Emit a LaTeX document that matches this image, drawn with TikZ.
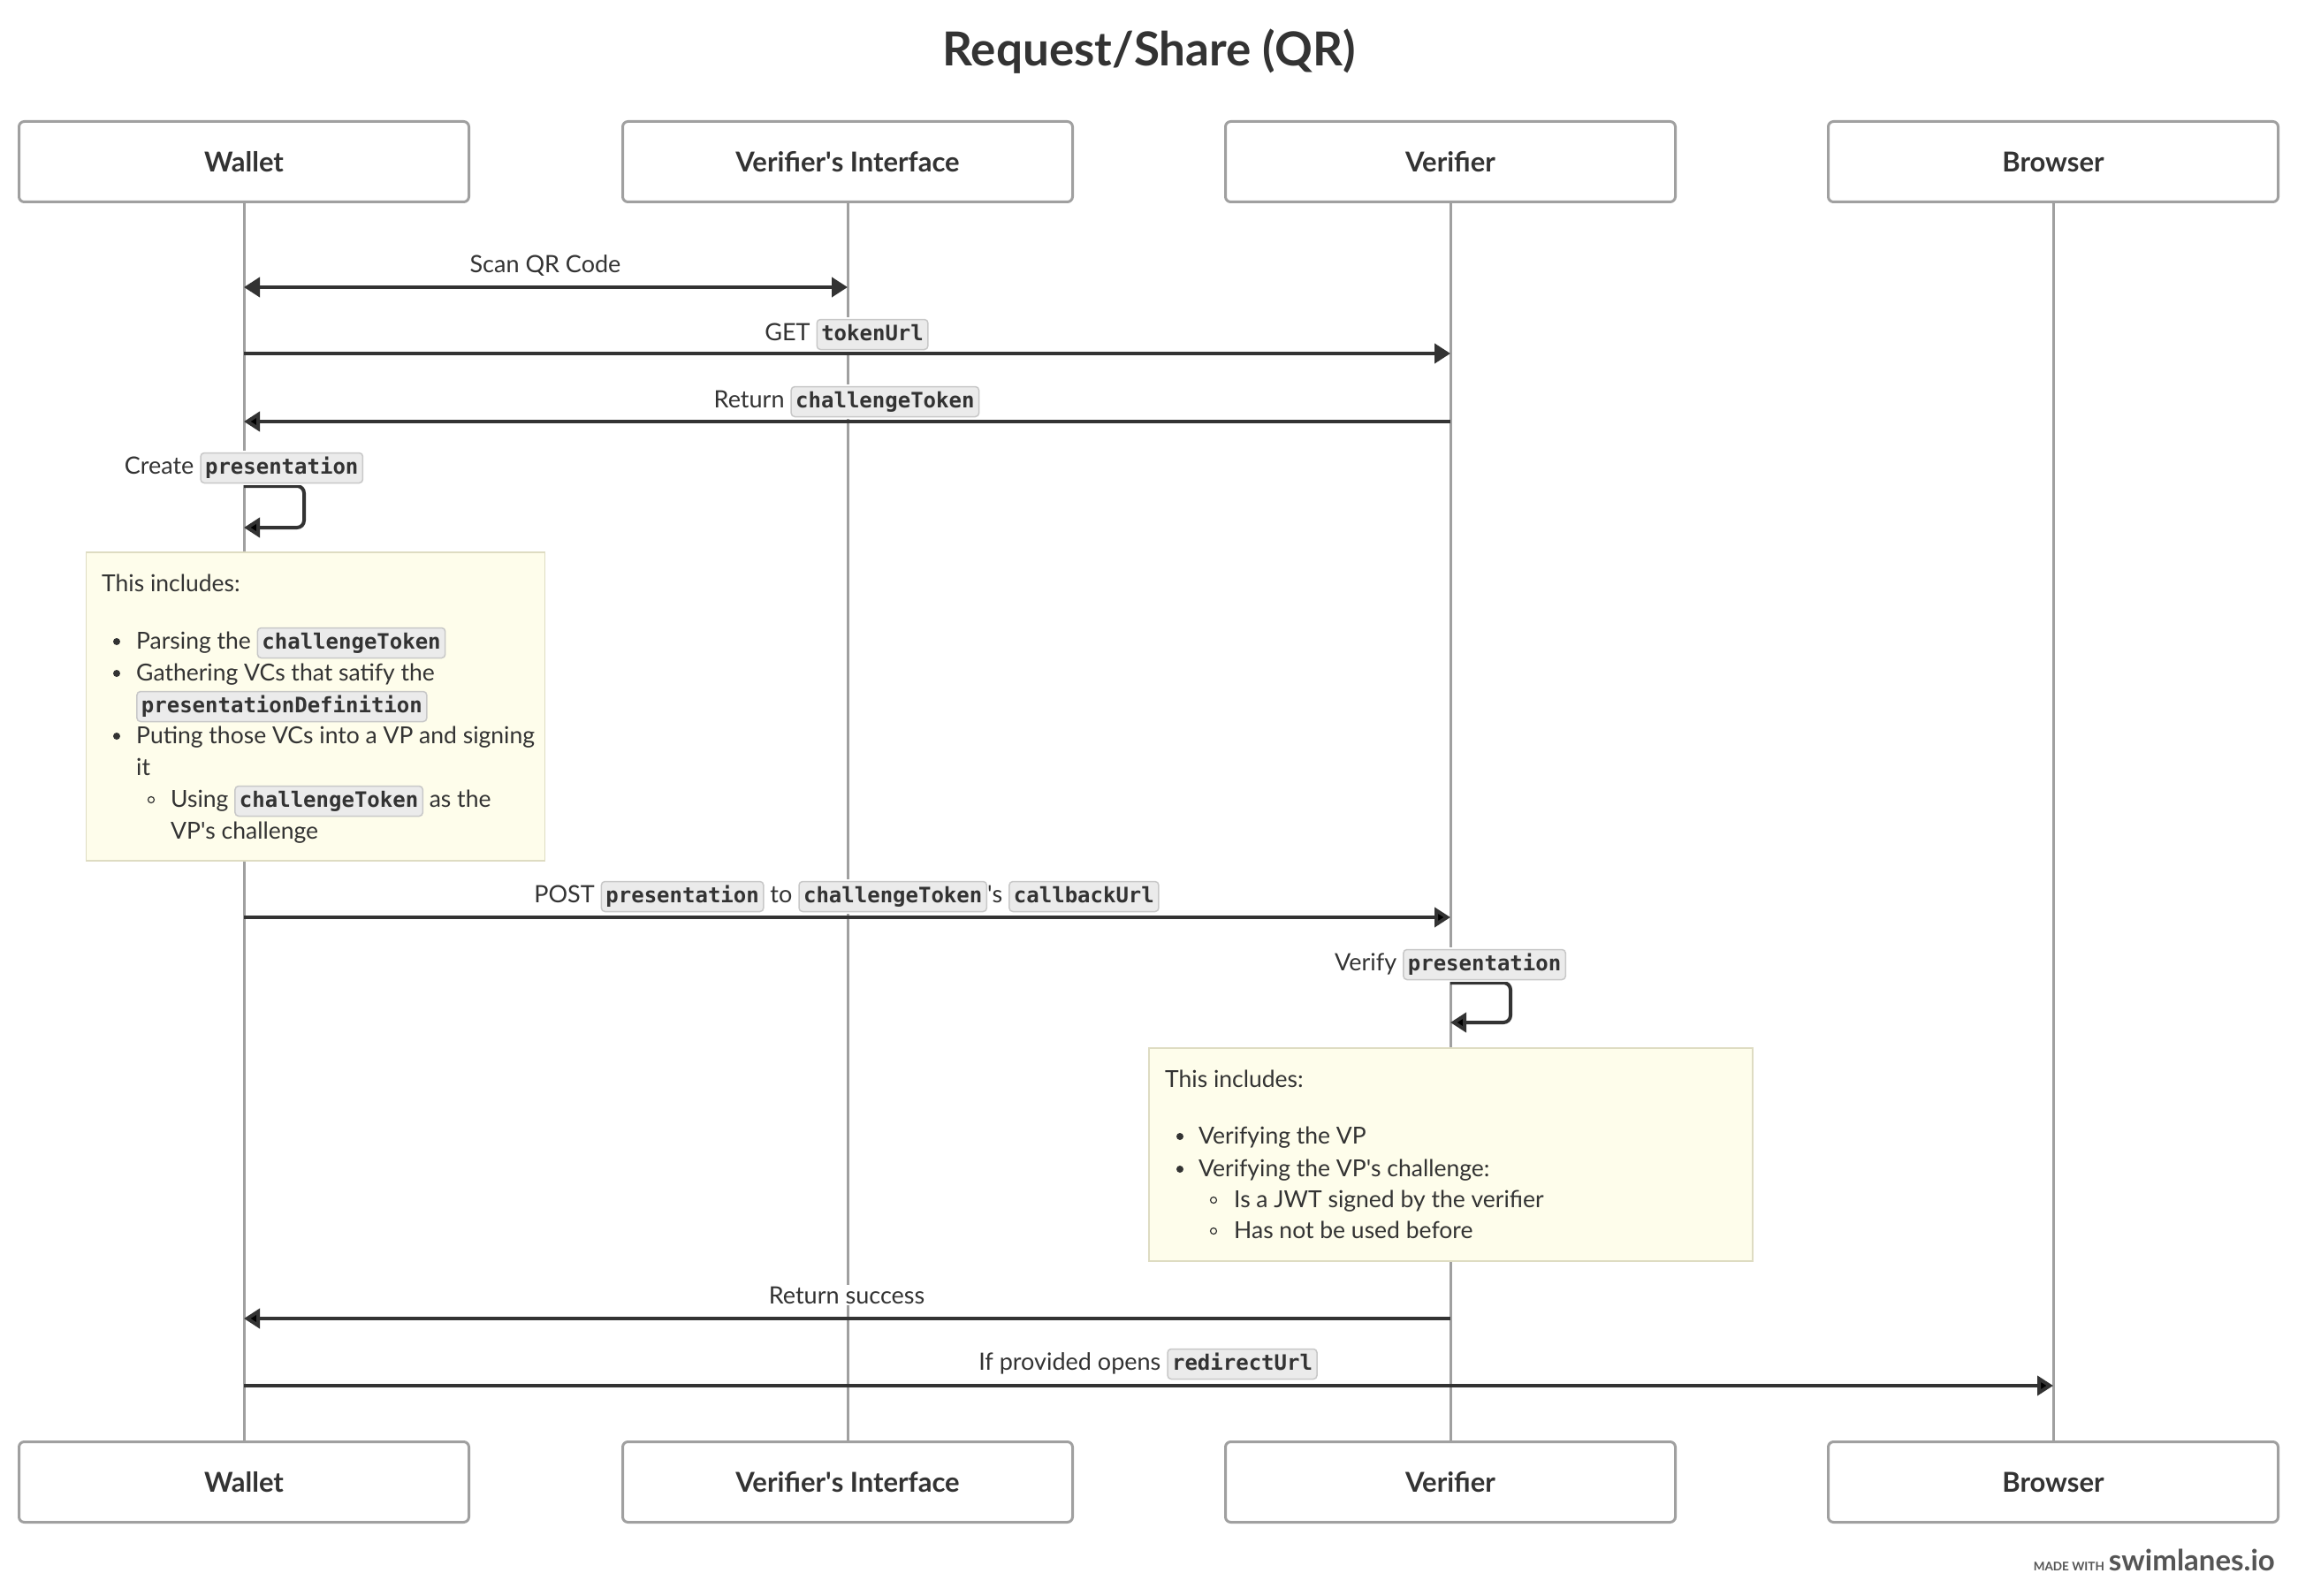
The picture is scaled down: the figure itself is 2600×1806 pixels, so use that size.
\documentclass[tikz,border=0pt]{standalone}
\usepackage{fontspec}
\setmainfont{Lato}
\newfontfamily\monofont{DejaVu Sans Mono}
\usetikzlibrary{arrows.meta}
\definecolor{ink}{HTML}{333333}
\definecolor{boxgray}{HTML}{A0A0A0}
\definecolor{lifegray}{HTML}{A0A0A0}
\definecolor{notefill}{HTML}{FEFDEB}
\definecolor{notebord}{HTML}{DEDCC2}
\definecolor{pillfill}{HTML}{EBEBEB}
\definecolor{pillbord}{HTML}{C8C8C8}
\definecolor{footgray}{HTML}{555555}
\tikzset{
 actor/.style={draw=boxgray, line width=3pt, fill=white, rounded corners=6pt, minimum width=509pt, minimum height=91pt, font=\fontsize{31}{36}\selectfont\bfseries, text=ink},
 life/.style={draw=lifegray, line width=3pt},
 msg/.style={draw=ink, line width=4pt, -{Triangle[length=18pt,width=22pt]}},
 dmsg/.style={draw=ink, line width=4pt, {Triangle[length=18pt,width=22pt]}-{Triangle[length=18pt,width=22pt]}},
 lbl/.style={font=\fontsize{27}{32}\selectfont, text=ink, fill=white, inner sep=2pt, anchor=base},
 note/.style={draw=notebord, line width=1.5pt, fill=notefill},
 ntxt/.style={font=\fontsize{26.5}{32}\selectfont, text=ink, anchor=base west, inner sep=0pt},
 pill/.style={draw=pillbord, fill=pillfill, line width=1.5pt, rounded corners=4pt, inner xsep=5pt, inner ysep=5.5pt, text height=18pt, text depth=5pt, font={\monofont\fontsize{24}{24}\selectfont\bfseries}, text=ink, anchor=base},
 dot/.style={fill=ink, draw=none, circle, inner sep=0pt, minimum size=8pt},
 ring/.style={draw=ink, line width=1.2pt, fill=none, circle, inner sep=0pt, minimum size=7pt},
}
\newcommand\cpill[1]{\tikz[baseline=(cc.base)]\node[pill](cc){#1};}
\newcommand\apos{\textquotesingle}
\begin{document}
\begin{tikzpicture}[x=1pt,y=-1pt]
\useasboundingbox (0,0) rectangle (2600,1806);
\fill[white] (0,0) rectangle (2600,1806);

\node[font=\fontsize{53}{60}\selectfont\bfseries, text=ink] (title) at (1300,58) {Request/Share (QR)};

% actors
\node[actor] (wallet) at (276,183) {Wallet};
\node[actor] (iface) at (959,183) {Verifier\apos s Interface};
\node[actor] (verif) at (1641,183) {Verifier};
\node[actor] (brow) at (2323,183) {Browser};
\node[actor] (walletB) at (276,1677) {Wallet};
\node[actor] (ifaceB) at (959,1677) {Verifier\apos s Interface};
\node[actor] (verifB) at (1641,1677) {Verifier};
\node[actor] (browB) at (2323,1677) {Browser};

% lifelines
\draw[life] (wallet.south) -- (walletB.north);
\draw[life] (iface.south) -- (ifaceB.north);
\draw[life] (verif.south) -- (verifB.north);
\draw[life] (brow.south) -- (browB.north);

% coordinates on lifelines
\coordinate (w1) at (276,325); \coordinate (i1) at (959,325);
\coordinate (w2) at (276,400); \coordinate (v2) at (1641,400);
\coordinate (w3) at (276,477); \coordinate (v3) at (1641,477);
\coordinate (w4a) at (276,550); \coordinate (w4b) at (276,597);
\coordinate (w6) at (276,1038); \coordinate (v6) at (1641,1038);
\coordinate (v7a) at (1641,1112); \coordinate (v7b) at (1641,1157);
\coordinate (w9) at (276,1492); \coordinate (v9) at (1641,1492);
\coordinate (w10) at (276,1568); \coordinate (b10) at (2323,1568);

% messages
\draw[dmsg] (w1) -- (i1);
\node[lbl] (l1) at (617,308) {Scan QR Code};

\draw[msg] (w2) -- (v2);
\node[lbl] (l2) at (958,385) {GET \cpill{tokenUrl}};

\draw[msg] (v3) -- (w3);
\node[lbl] (l3) at (958,461) {Return \cpill{challengeToken}};

\draw[msg, rounded corners=8pt] (w4a) -- ++(68,0) -- ++(0,47) -- (w4b);
\node[lbl] (l4) at (276,536) {Create \cpill{presentation}};

% note 1
\node[note, minimum width=519pt, minimum height=349pt, inner sep=0pt] (n1) at (357,799.5) {};
\node[ntxt] (n1a) at (115,669) {This includes:};
\node[dot] (n1b1) at (132,726) {};
\node[ntxt] (n1b) at (154,734) {Parsing the \cpill{challengeToken}};
\node[dot] (n1c1) at (132,762) {};
\node[ntxt] (n1c) at (154,770) {Gathering VCs that satify the};
\node[ntxt] (n1d) at (154,806) {\cpill{presentationDefinition}};
\node[dot] (n1e1) at (132,833) {};
\node[ntxt] (n1e) at (154,841) {Puting those VCs into a VP and signing};
\node[ntxt] (n1f) at (154,877) {it};
\node[ring] (n1g1) at (171,905) {};
\node[ntxt] (n1g) at (193,913) {Using \cpill{challengeToken} as the};
\node[ntxt] (n1h) at (193,949) {VP\apos s challenge};

\draw[msg] (w6) -- (v6);
\node[lbl] (l6) at (958,1021) {POST \cpill{presentation} to \cpill{challengeToken}\apos s \cpill{callbackUrl}};

\draw[msg, rounded corners=8pt] (v7a) -- ++(68,0) -- ++(0,45) -- (v7b);
\node[lbl] (l7) at (1641,1098) {Verify \cpill{presentation}};

% note 2
\node[note, minimum width=683pt, minimum height=241pt, inner sep=0pt] (n2) at (1641.5,1306.5) {};
\node[ntxt] (n2a) at (1318,1230) {This includes:};
\node[dot] (n2b1) at (1335,1286) {};
\node[ntxt] (n2b) at (1356,1294) {Verifying the VP};
\node[dot] (n2c1) at (1335,1323) {};
\node[ntxt] (n2c) at (1356,1331) {Verifying the VP\apos s challenge:};
\node[ring] (n2d1) at (1373,1358) {};
\node[ntxt] (n2d) at (1396,1366) {Is a JWT signed by the verifier};
\node[ring] (n2e1) at (1373,1393) {};
\node[ntxt] (n2e) at (1396,1401) {Has not be used before};

\draw[msg] (v9) -- (w9);
\node[lbl] (l9) at (958,1475) {Return success};

\draw[msg] (w10) -- (b10);
\node[lbl] (l10) at (1299,1550) {If provided opens \cpill{redirectUrl}};

% footer
\node[anchor=base east, text=footgray, inner sep=0pt] (foot) at (2574,1777) {{\fontsize{13.5}{14}\selectfont\bfseries MADE WITH}\hspace{5pt}{\fontsize{33}{36}\selectfont\bfseries swimlanes.io}};
\end{tikzpicture}
\end{document}
